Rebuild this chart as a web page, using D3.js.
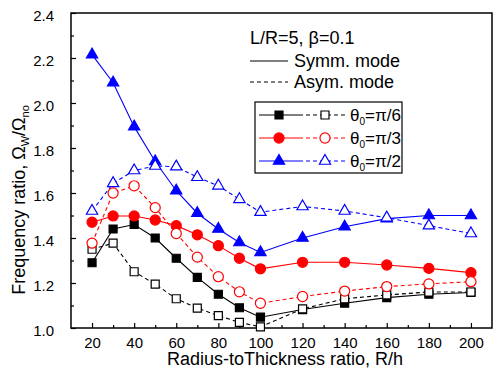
<!DOCTYPE html>
<html>
<head>
<meta charset="utf-8">
<script src="https://cdn.jsdelivr.net/npm/d3@7"></script>
<style>
  body { margin: 0; background: #fff; }
  svg text { font-family: Arial, "Liberation Sans", sans-serif; fill: #000; }
</style>
</head>
<body>
<div id="chart"></div>
<script>
// data
const radiusRatio = [20, 30, 40, 50, 60, 70, 80, 90, 100, 120, 140, 160, 180, 200];
const symmPi6 = [1.29, 1.44, 1.46, 1.40, 1.31, 1.225, 1.15, 1.09, 1.048, 1.082, 1.11, 1.135, 1.15, 1.158];
const asymPi6 = [1.35, 1.377, 1.25, 1.195, 1.13, 1.088, 1.055, 1.025, 1.005, 1.085, 1.13, 1.147, 1.16, 1.16];
const symmPi3 = [1.47, 1.498, 1.498, 1.48, 1.455, 1.414, 1.366, 1.31, 1.263, 1.292, 1.292, 1.28, 1.265, 1.246];
const asymPi3 = [1.377, 1.60, 1.632, 1.535, 1.42, 1.315, 1.228, 1.161, 1.11, 1.14, 1.164, 1.184, 1.196, 1.206];
const symmPi2 = [2.215, 2.09, 1.895, 1.74, 1.61, 1.51, 1.44, 1.38, 1.336, 1.40, 1.45, 1.486, 1.50, 1.50];
const asymPi2 = [1.52, 1.643, 1.70, 1.72, 1.717, 1.67, 1.632, 1.572, 1.515, 1.54, 1.52, 1.49, 1.455, 1.42];
const xTicks = [20, 40, 60, 80, 100, 120, 140, 160, 180, 200];
const yTicks = [1.0, 1.2, 1.4, 1.6, 1.8, 2.0, 2.2, 2.4];
const thetaLabels = ["π/6", "π/3", "π/2"];

const width = 498;
const height = 381;
const plot = { left: 71, top: 13, right: 492, bottom: 328 };

const series = [
  { values: symmPi6, color: "#000", shape: "square", open: false, dashed: false },
  { values: asymPi6, color: "#000", shape: "square", open: true, dashed: true },
  { values: symmPi3, color: "#f00", shape: "circle", open: false, dashed: false },
  { values: asymPi3, color: "#f00", shape: "circle", open: true, dashed: true },
  { values: symmPi2, color: "#00f", shape: "triangle", open: false, dashed: false },
  { values: asymPi2, color: "#00f", shape: "triangle", open: true, dashed: true }
];

const symbolType = { square: d3.symbolSquare, circle: d3.symbolCircle, triangle: d3.symbolTriangle };
const symbolSize = { square: 64, circle: 80, triangle: 55 };
const dash = "4,3";

const svg = d3.select("#chart").append("svg")
  .attr("width", width)
  .attr("height", height);

// scales
const x = d3.scaleLinear().domain([10, 210]).range([plot.left, plot.right]);
const y = d3.scaleLinear().domain([1.0, 2.4]).range([plot.bottom, plot.top]);

// minor ticks (inward)
svg.append("g")
  .attr("transform", `translate(0,${plot.bottom})`)
  .call(d3.axisBottom(x).tickValues(d3.range(30, 210, 20)).tickSize(-3).tickFormat(""))
  .call(g => g.select(".domain").remove());
svg.append("g")
  .attr("transform", `translate(${plot.left},0)`)
  .call(d3.axisLeft(y).tickValues(d3.range(1.1, 2.4, 0.2)).tickSize(-3).tickFormat(""))
  .call(g => g.select(".domain").remove());

// major ticks
svg.append("g")
  .attr("transform", `translate(0,${plot.bottom})`)
  .call(d3.axisBottom(x).tickValues(xTicks).tickSize(-5).tickPadding(9))
  .call(g => g.select(".domain").remove())
  .call(g => g.selectAll("text").style("font-size", "15px"));
svg.append("g")
  .attr("transform", `translate(${plot.left},0)`)
  .call(d3.axisLeft(y).tickValues(yTicks).tickSize(-5).tickPadding(17).tickFormat(d3.format(".1f")))
  .call(g => g.select(".domain").remove())
  .call(g => g.selectAll("text").style("font-size", "15px").attr("dy", "0.5em"));

svg.selectAll(".tick line").attr("stroke", "#000").attr("stroke-width", 1.2);

// frame
svg.append("rect")
  .attr("x", plot.left)
  .attr("y", plot.top)
  .attr("width", plot.right - plot.left)
  .attr("height", plot.bottom - plot.top)
  .attr("fill", "none")
  .attr("stroke", "#000")
  .attr("stroke-width", 1.5);

// axis titles
svg.append("text")
  .attr("x", 285)
  .attr("y", 365)
  .attr("text-anchor", "middle")
  .style("font-size", "18px")
  .text("Radius-toThickness ratio, R/h");

const yTitle = svg.append("text")
  .attr("transform", "translate(25,200) rotate(-90)")
  .attr("text-anchor", "middle")
  .style("font-size", "18px");
yTitle.append("tspan").text("Frequency ratio, Ω");
yTitle.append("tspan").attr("dy", 4).style("font-size", "11px").text("W");
yTitle.append("tspan").attr("dy", -4).text("/Ω");
yTitle.append("tspan").attr("dy", 4).style("font-size", "11px").text("no");

// lines and markers
const line = d3.line()
  .x((d, i) => x(radiusRatio[i]))
  .y(d => y(d));

const drawMarker = (sel, s) => sel
  .attr("d", d3.symbol().type(symbolType[s.shape]).size(symbolSize[s.shape]))
  .attr("fill", s.open ? "#fff" : s.color)
  .attr("stroke", s.color)
  .attr("stroke-width", 1.2);

series.forEach(s => {
  svg.append("path")
    .datum(s.values)
    .attr("d", line)
    .attr("fill", "none")
    .attr("stroke", s.color)
    .attr("stroke-width", 1.1)
    .attr("stroke-dasharray", s.dashed ? dash : null);
});

series.forEach(s => {
  svg.append("g").selectAll("path")
    .data(s.values)
    .enter()
    .append("path")
    .attr("transform", (d, i) => `translate(${x(radiusRatio[i])},${y(d)})`)
    .call(drawMarker, s);
});

// parameter text and mode legend
svg.append("text")
  .attr("x", 250)
  .attr("y", 44)
  .style("font-size", "18px")
  .text("L/R=5, β=0.1");

[["Symm. mode", null, 61], ["Asym. mode", dash, 82]].forEach(([label, d, ly]) => {
  svg.append("line")
    .attr("x1", 250).attr("x2", 288)
    .attr("y1", ly).attr("y2", ly)
    .attr("stroke", "#000")
    .attr("stroke-width", 1.1)
    .attr("stroke-dasharray", d);
  svg.append("text")
    .attr("x", 294)
    .attr("y", ly + 6)
    .style("font-size", "18px")
    .text(label);
});

// theta legend box
svg.append("rect")
  .attr("x", 255).attr("y", 102)
  .attr("width", 147).attr("height", 71)
  .attr("fill", "#fff")
  .attr("stroke", "#000")
  .attr("stroke-width", 1.2);

thetaLabels.forEach((label, i) => {
  const ly = 115 + i * 23;
  const solid = series[i * 2];
  const open = series[i * 2 + 1];
  svg.append("line")
    .attr("x1", 259).attr("x2", 299)
    .attr("y1", ly).attr("y2", ly)
    .attr("stroke", solid.color).attr("stroke-width", 1.1);
  svg.append("line")
    .attr("x1", 299).attr("x2", 346)
    .attr("y1", ly).attr("y2", ly)
    .attr("stroke", open.color).attr("stroke-width", 1.1)
    .attr("stroke-dasharray", dash);
  svg.append("path").attr("transform", `translate(279,${ly})`).call(drawMarker, solid);
  svg.append("path").attr("transform", `translate(325,${ly})`).call(drawMarker, open);
  const t = svg.append("text")
    .attr("x", 350)
    .attr("y", ly + 6)
    .style("font-size", "17px");
  t.append("tspan").text("θ");
  t.append("tspan").attr("dy", 4).style("font-size", "10px").text("0");
  t.append("tspan").attr("dy", -4).text("=" + label);
});
</script>
</body>
</html>
